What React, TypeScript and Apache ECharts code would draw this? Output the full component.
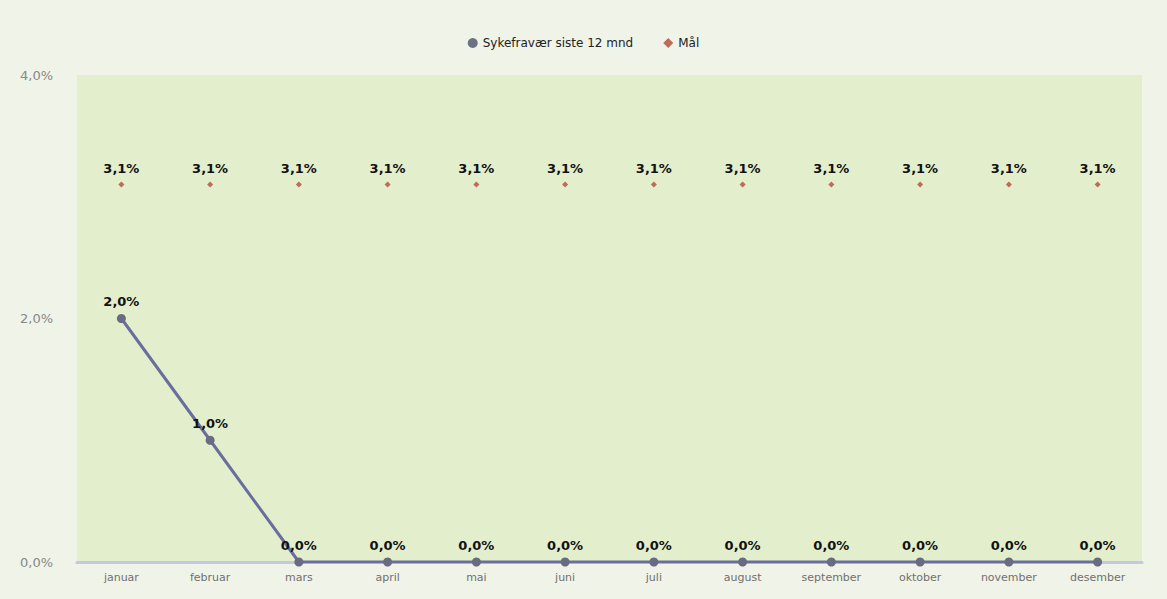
import React, { useEffect, useRef } from "react";
import * as echarts from "echarts";

const months = ["januar", "februar", "mars", "april", "mai", "juni", "juli", "august", "september", "oktober", "november", "desember"];
const sykefravaer = [2.0, 1.0, 0.0, 0.0, 0.0, 0.0, 0.0, 0.0, 0.0, 0.0, 0.0, 0.0];
const maal = [3.1, 3.1, 3.1, 3.1, 3.1, 3.1, 3.1, 3.1, 3.1, 3.1, 3.1, 3.1];
const seriesNames = ["Sykefravær siste 12 mnd", "Mål"];

const fmt = (v: number) => v.toFixed(1).replace(".", ",") + "%";

export default function App() {
  const ref = useRef<HTMLDivElement>(null);
  useEffect(() => {
    document.body.style.margin = "0";
    const chart = echarts.init(ref.current!, null, { renderer: "svg" });
    chart.setOption({
      animation: false,
      backgroundColor: "#f0f3e8",
      textStyle: { fontFamily: "DejaVu Sans" },
      legend: {
        top: 32,
        left: "center",
        itemGap: 30,
        itemWidth: 10,
        itemHeight: 10,
        textStyle: { fontSize: 12, color: "#222", fontFamily: "DejaVu Sans" },
        data: [
          { name: seriesNames[0], icon: "circle", itemStyle: { color: "#6e7085" } },
          { name: seriesNames[1], icon: "diamond", itemStyle: { color: "#c06a5a" } },
        ],
      },
      grid: {
        left: 77,
        right: 25,
        top: 75,
        bottom: 37,
        show: true,
        backgroundColor: "#e3eecd",
        borderWidth: 0,
      },
      xAxis: {
        type: "category",
        data: months,
        boundaryGap: true,
        axisLine: { show: true, lineStyle: { color: "#c4c8e0", width: 3 } },
        axisTick: { show: false },
        axisLabel: { color: "#707070", fontSize: 11, margin: 10 },
      },
      yAxis: {
        type: "value",
        min: 0,
        max: 4,
        interval: 2,
        axisLine: { show: false },
        axisTick: { show: false },
        splitLine: { show: false },
        axisLabel: {
          color: "#888888",
          fontSize: 13,
          align: "left",
          margin: 57,
          formatter: (v: number) => fmt(v),
        },
      },
      series: [
        {
          name: seriesNames[0],
          type: "line",
          data: sykefravaer,
          symbol: "circle",
          symbolSize: 9,
          lineStyle: { color: "#6a6e9c", width: 3 },
          itemStyle: { color: "#686b82" },
          label: {
            show: true,
            position: "top",
            distance: 6,
            fontWeight: "bold",
            fontSize: 13,
            color: "#111",
            formatter: (p: any) => fmt(p.value),
          },
          z: 3,
        },
        {
          name: seriesNames[1],
          type: "line",
          data: maal,
          symbol: "diamond",
          symbolSize: 6,
          lineStyle: { width: 0, opacity: 0 },
          itemStyle: { color: "#c06a5a" },
          label: {
            show: true,
            position: "top",
            distance: 7,
            fontWeight: "bold",
            fontSize: 13,
            color: "#111",
            formatter: (p: any) => fmt(p.value),
          },
          z: 2,
        },
      ],
    });
    return () => chart.dispose();
  }, []);
  return <div ref={ref} style={{ width: 1167, height: 599 }} />;
}
